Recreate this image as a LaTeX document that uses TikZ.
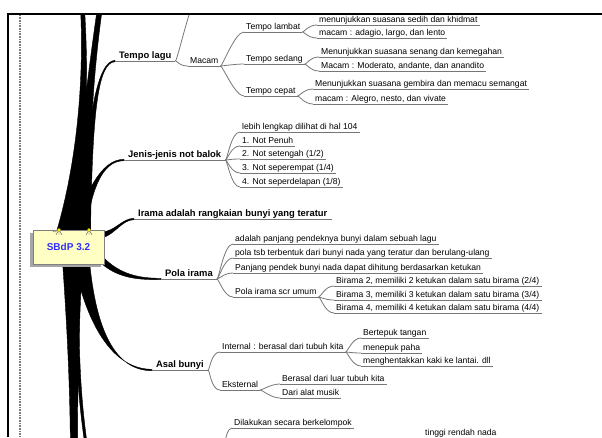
\documentclass[tikz,border=0pt]{standalone}
\usepackage{fontspec}
\setmainfont{Liberation Sans}
\usetikzlibrary{calc,shadows,backgrounds}

\definecolor{twiggray}{RGB}{118,118,118}
\definecolor{notefill}{RGB}{255,255,196}
\definecolor{noteblue}{RGB}{48,48,255}

% tapered main branch: start, control 1, control 2, end, half width at start, half width at end
\newcommand\bough[6]{%
  \fill[bough] ($#1+#5$) .. controls ($#2+0.5*#5$) and ($#3+#6$) .. ($#4+#6$)
    -- ($#4-#6$) .. controls ($#3-#6$) and ($#2-0.5*#5$) .. ($#1-#5$) -- cycle;}

\tikzset{
  uline/.style={draw=twiggray, line width=1pt},
  leaf/.style={anchor=south west, inner xsep=2pt, inner ysep=0.8pt,
    text height=6.5pt, text depth=1.6pt, font=\fontsize{8.6}{10}\selectfont,
    append after command={(\tikzlastnode.south west) edge[uline] (\tikzlastnode.south east)}},
  topic/.style={leaf, inner xsep=4pt, font=\bfseries\fontsize{9.4}{11}\selectfont},
  twig/.style={draw=twiggray, line width=0.8pt,
    to path={.. controls +(2,0) and +(-9,0) .. (\tikztotarget)}},
  bough/.style={fill=black, draw=black, line width=0.4pt},
  rootbox/.style={draw=gray, fill=notefill, minimum width=71pt, minimum height=34pt,
    text=noteblue, font=\bfseries\fontsize{10}{12}\selectfont,
    drop shadow={shadow xshift=-3pt, shadow yshift=-3pt, fill=gray!70, opacity=1}}
}

\begin{document}
\begin{tikzpicture}[x=1pt,y=-1pt]
\useasboundingbox (0,0) rectangle (602,437);
\begin{scope}
\clip (9.5,15.2) rectangle (602,437);

\node[rootbox] (root) at (68.5,247) {SBdP 3.2};

% Tempo lagu
\node[topic] (tempo) at (115,61) {Tempo lagu};
\node[leaf] (macam) at (188,66) {Macam};
\node[leaf] (lambat) at (244,32) {Tempo lambat};
\node[leaf] (sedang) at (244,64) {Tempo sedang};
\node[leaf] (cepat) at (244,96) {Tempo cepat};
\node[leaf] (lambatA) at (317,25) {menunjukkan suasana sedih dan khidmat};
\node[leaf] (lambatB) at (317,38) {macam : adagio, largo, dan lento};
\node[leaf] (sedangA) at (319,57) {Menunjukkan suasana senang dan kemegahan};
\node[leaf] (sedangB) at (319,71) {Macam : Moderato, andante, dan anandito};
\node[leaf] (cepatA) at (313,89) {Menunjukkan suasana gembira dan memacu semangat};
\node[leaf] (cepatB) at (313,104) {macam : Alegro, nesto, dan vivate};

% Jenis-jenis not balok
\node[topic] (jenis) at (124,160) {Jenis-jenis not balok};
\node[leaf] (not0) at (240,132) {lebih lengkap dilihat di hal 104};
\node[leaf] (not1) at (240,146) {1. Not Penuh};
\node[leaf] (not2) at (240,159) {2. Not setengah (1/2)};
\node[leaf] (not3) at (240,173) {3. Not seperempat (1/4)};
\node[leaf] (not4) at (240,187) {4. Not seperdelapan (1/8)};

\node[topic] (irama) at (134,219) {Irama adalah rangkaian bunyi yang teratur};

% Pola irama
\node[topic] (pola) at (161,279) {Pola irama};
\node[leaf] (pola1) at (233,244) {adalah panjang pendeknya bunyi dalam sebuah lagu};
\node[leaf] (pola2) at (233,258) {pola tsb terbentuk dari bunyi nada yang teratur dan berulang-ulang};
\node[leaf] (pola3) at (233,273) {Panjang pendek bunyi nada dapat dihitung berdasarkan ketukan};
\node[leaf] (umum) at (233,297) {Pola irama scr umum};
\node[leaf] (birama2) at (334,286) {Birama 2, memiliki 2 ketukan dalam satu birama (2/4)};
\node[leaf] (birama3) at (334,300) {Birama 3, memiliki 3 ketukan dalam satu birama (3/4)};
\node[leaf] (birama4) at (334,313) {Birama 4, memiliki 4 ketukan dalam satu birama (4/4)};

% Asal bunyi
\node[topic] (asal) at (152,370) {Asal bunyi};
\node[leaf] (internal) at (220,352) {Internal : berasal dari tubuh kita};
\node[leaf] (eksternal) at (220,390) {Eksternal};
\node[leaf] (int1) at (361,338) {Bertepuk tangan};
\node[leaf] (int2) at (361,353) {menepuk paha};
\node[leaf] (int3) at (361,366) {menghentakkan kaki ke lantai. dll};
\node[leaf] (eks1) at (280,384) {Berasal dari luar tubuh kita};
\node[leaf] (eks2) at (280,398) {Dari alat musik};

\node[leaf] (kelompok) at (232,428) {Dilakukan secara berkelompok};
\node[leaf] (tinggi) at (423,438.5) {tinggi rendah nada};

\coordinate (tempoup) at (203,-15);
\coordinate (lowtopic) at (221,470);

\foreach \a/\b in {tempo/macam, macam/lambat, macam/sedang, macam/cepat,
    lambat/lambatA, lambat/lambatB, sedang/sedangA, sedang/sedangB,
    cepat/cepatA, cepat/cepatB, jenis/not0, jenis/not1, jenis/not2,
    jenis/not3, jenis/not4, pola/pola1, pola/pola2, pola/pola3, pola/umum,
    umum/birama2, umum/birama3, umum/birama4, asal/internal, asal/eksternal,
    internal/int1, internal/int2, internal/int3, eksternal/eks1, eksternal/eks2}
  \draw[twig] (\a.south east) to (\b.south west);
\draw[twig] (tempo.south east) to (tempoup);
\draw[twig] (lowtopic) to (kelompok.south west);

% icons on the central topic
\foreach \x in {-9.5,20.5} {
  \draw[gray!60!black, line width=0.4pt] ($(root.north)+(\x,0)$) -- +(-3,5)
    ($(root.north)+(\x,0)$) -- +(0,5) ($(root.north)+(\x,0)$) -- +(3,5);
  \fill[yellow!90!orange] ($(root.north)+(\x,0)$) circle (1.8);
}
\draw[gray, line width=0.5pt] ($(root.north)+(-16,0)$) arc (180:0:2.2);

\begin{pgfonlayer}{background}
  \clip (9.5,15.2) rectangle (602,437);
  \coordinate (topL) at (82,0);
  \coordinate (topR) at (101,0);
  \coordinate (lowA) at (74,470);
  \coordinate (lowB) at (90,470);
  \coordinate (bA) at ($(root.north)+(-3,2)$);
  \coordinate (bB) at ($(root.north)+(13,2)$);
  \coordinate (bC) at ($(root.north)+(17,2)$);
  \coordinate (bD) at ($(root.north)+(11,2)$);
  \coordinate (bE) at ($(root.north east)+(-2,5)$);
  \coordinate (bF) at ($(root.south east)+(-2,-4)$);
  \coordinate (bG) at ($(root.south)+(13,-3)$);
  \coordinate (bH) at ($(root.south)+(4,-3)$);
  \coordinate (bI) at ($(root.south)+(8,-3)$);
  \bough{(bA)}{(85,150)}{(86,60)}{(topL)}{(9,0)}{(2,0)}
  \bough{(bB)}{(84,140)}{(91,70)}{(topR)}{(9,0)}{(2.5,0)}
  \bough{(bC)}{(90,110)}{(98,62)}{(tempo.south west)}{(5,0)}{(0,0.7)}
  \bough{(bD)}{(88,195)}{(100,160)}{(jenis.south west)}{(6,0)}{(0,0.7)}
  \bough{(bE)}{(115,233)}{(122,219)}{(irama.south west)}{(0,3)}{(0,0.7)}
  \bough{(bF)}{(120,277)}{(140,279)}{(pola.south west)}{(0,4)}{(0,0.7)}
  \bough{(bG)}{(92,330)}{(115,370)}{(asal.south west)}{(8,0)}{(0,0.7)}
  \bough{(bH)}{(73,340)}{(74,400)}{(lowA)}{(10,0)}{(3.5,0)}
  \bough{(bI)}{(76,360)}{(80,410)}{(lowB)}{(3,0)}{(1.2,0)}
\end{pgfonlayer}
\end{scope}

% frame of the page
\draw[line width=2pt] (8.3,437) -- (8.3,14) -- (602,14);
\draw[gray, line width=1.2pt, dash pattern=on 0.8pt off 0.8pt] (20,15) -- (20,437);
\end{tikzpicture}
\end{document}
